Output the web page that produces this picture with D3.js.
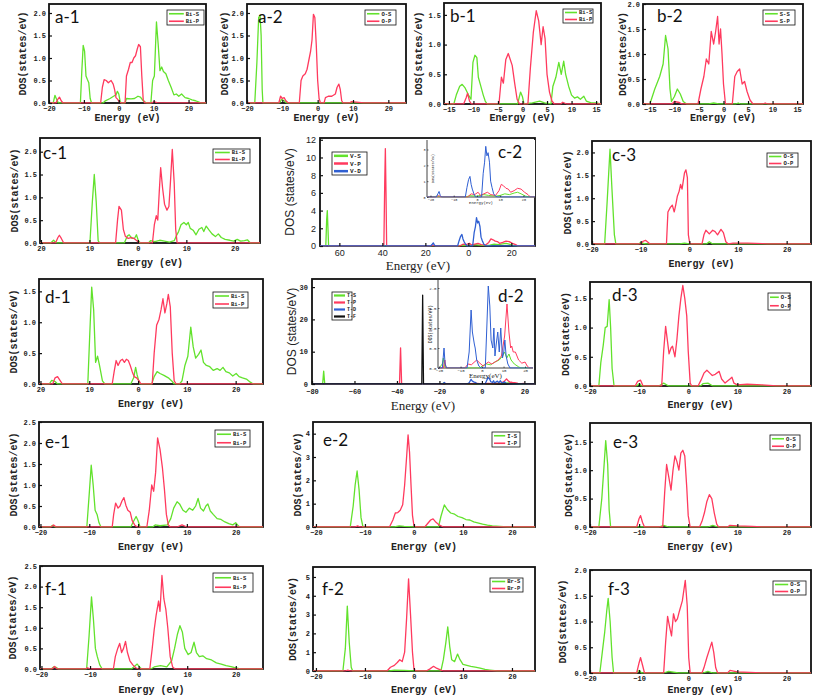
<!DOCTYPE html>
<html><head><meta charset="utf-8">
<script src="https://cdn.jsdelivr.net/npm/d3@7"></script>
<style>body{margin:0;background:#fff}</style>
</head><body>
<script>
// ---------------- DATA (energy eV, DOS states/eV) ----------------
const a1_BiS=[[-20,0],[-18.8,0],[-18.3,0.17],[-17.8,0.08],[-17.3,0],[-11,0],[-10.6,0.7],[-10.2,1.28],[-9.8,1.15],[-9.4,0.6],[-9,0.52],[-8.6,0.45],[-8.2,0.1],[-7.8,0],[-4.5,0],[-4,0.04],[-2.5,0.1],[-1.5,0.15],[-0.8,0.18],[-0.4,0.26],[0,0.2],[0.4,0.03],[0.8,0],[1.8,0],[2.2,0.1],[3.5,0.09],[4.5,0.1],[5.5,0.15],[6.2,0.13],[7,0.05],[8,0],[9.2,0],[9.7,0.5],[10.2,0.6],[10.8,1.8],[11.3,1.3],[11.8,0.72],[12.3,0.8],[12.8,0.7],[13.5,0.65],[14.2,0.5],[15,0.35],[15.8,0.18],[16.5,0.2],[17.2,0.15],[18,0.2],[19,0.12],[20,0.1],[21,0.07],[22,0.05],[23,0.02],[23.5,0],[25,0]];
const a1_BiP=[[-20,0],[-18,0],[-17.5,0.08],[-17,0.13],[-16.5,0.05],[-16,0],[-5.2,0],[-4.7,0.35],[-4.2,0.52],[-3.6,0.5],[-3,0.45],[-2.2,0.5],[-1.6,0.42],[-1.2,0.3],[-0.8,0.12],[-0.3,0.08],[0.2,0.02],[0.6,0],[1.8,0],[2.2,0.6],[2.8,0.75],[3.3,0.9],[3.8,0.9],[4.3,1.0],[4.8,1.05],[5.3,1.2],[5.7,1.3],[6.2,1.25],[6.6,0.6],[7,0.08],[7.4,0],[9.5,0],[10,0.03],[11,0.01],[25,0]];
const a2_OS=[[-20,0],[-17.8,0],[-17.2,0.9],[-16.7,1.9],[-16.3,1.95],[-16,1.5],[-15.7,0.3],[-15.5,0],[-10.8,0],[-10.2,0.08],[-9.5,0.05],[-8.8,0],[25,0]];
const a2_OP=[[-20,0],[-11,0],[-10.5,0.15],[-10,0.1],[-9.5,0.12],[-9,0.05],[-8.3,0],[-5.2,0],[-4.7,0.5],[-4.2,0.6],[-3.5,0.65],[-3,0.75],[-2.5,0.95],[-2,1.15],[-1.6,1.4],[-1.2,1.97],[-0.8,1.9],[-0.4,1.3],[0,0.5],[0.4,0.1],[0.8,0],[1.8,0],[2.2,0.12],[3,0.15],[4,0.15],[5,0.2],[5.5,0.35],[6,0.42],[6.4,0.3],[6.8,0.05],[7.2,0],[9,0],[9.5,0.03],[11,0.02],[13,0],[25,0]];
const b1_BiS=[[-16,0],[-14,0],[-13.5,0.15],[-12.8,0.3],[-12.3,0.33],[-11.7,0.27],[-11,0.15],[-10.5,0.08],[-10.1,0.7],[-9.7,0.82],[-9.3,0.78],[-9,0.45],[-8.5,0.3],[-8,0.15],[-7.6,0.05],[-7.2,0],[-1,0],[-0.4,0.2],[0,0.12],[0.3,0],[2,0.02],[3.5,0.05],[4.5,0.02],[5.8,0],[6.2,0.3],[6.8,0.45],[7.4,0.7],[7.9,0.5],[8.4,0.72],[8.8,0.5],[9.4,0.3],[10,0.15],[10.6,0.1],[11.2,0.12],[11.8,0.08],[12.5,0.13],[13,0.05],[14,0.02],[15,0.02],[16,0]];
const b1_BiP=[[-16,0],[-12,0],[-11.5,0.1],[-11.2,0.18],[-10.8,0.05],[-10.4,0],[-4.8,0],[-4.3,0.45],[-3.9,0.35],[-3.4,0.75],[-2.9,0.85],[-2.5,0.75],[-2.1,0.65],[-1.6,0.35],[-1.1,0.08],[-0.6,0],[1.1,0],[1.6,0.6],[2.2,1.2],[2.8,1.57],[3.3,1.4],[3.8,1.0],[4.2,1.3],[4.6,1.1],[5,0.5],[5.5,0.2],[6,0.05],[6.5,0],[7.8,0],[8.2,0.03],[9,0],[16,0]];
const b2_SS=[[-16.4,0],[-15,0],[-14,0.3],[-13,0.55],[-12.3,0.8],[-11.8,1.37],[-11.3,1.1],[-10.9,0.3],[-10.6,0.05],[-10,0.15],[-9.4,0.3],[-8.8,0.2],[-8.2,0.05],[-7.5,0],[-3,0],[-2,0.02],[-1,0],[2.5,0],[3,0.02],[3.5,0],[16.2,0]];
const b2_SP=[[-16.4,0],[-10.5,0],[-10,0.05],[-9,0.03],[-8.5,0],[-5.2,0],[-4.6,0.3],[-4,0.55],[-3.5,0.9],[-3,0.8],[-2.5,1.45],[-2,1.2],[-1.6,1.45],[-1.2,1.75],[-0.9,1.2],[-0.6,1.5],[-0.3,1.0],[0,0.4],[0.4,0],[1.8,0],[2.3,0.55],[2.8,0.65],[3.3,0.7],[3.8,0.4],[4.3,0.45],[4.8,0.25],[5.4,0.08],[6,0],[8,0],[8.5,0.02],[9,0],[16.2,0]];
const c1_BiS=[[-20.2,0],[-18,0],[-17.4,0.06],[-16.8,0],[-9.9,0],[-9.4,0.9],[-9.0,1.5],[-8.6,0.9],[-8.2,0.05],[-7.9,0],[-2.8,0],[-2.2,0.15],[-1.8,0.18],[-1.2,0.1],[-0.7,0.1],[-0.3,0.18],[0.1,0.05],[0.5,0],[2.2,0],[2.6,0.05],[3.5,0.03],[4.5,0.06],[5.5,0.04],[6.5,0.02],[7.5,0.05],[7.9,0.15],[8.4,0.25],[8.9,0.4],[9.5,0.45],[10,0.4],[10.4,0.45],[10.8,0.32],[11.4,0.28],[12,0.18],[12.6,0.3],[13.2,0.34],[13.6,0.25],[14.1,0.37],[14.7,0.28],[15.3,0.2],[16,0.14],[16.6,0.2],[17.2,0.12],[18,0.08],[19,0.06],[19.8,0.04],[20.5,0.08],[21.2,0.04],[22,0.05],[22.6,0.07],[23.2,0],[25.2,0]];
const c1_BiP=[[-20.2,0],[-17,0],[-16.5,0.12],[-16.2,0.17],[-15.8,0.1],[-15.3,0],[-4.6,0],[-4.2,0.5],[-3.9,0.8],[-3.4,0.72],[-3.0,0.3],[-2.6,0.15],[-2.0,0.1],[-1.4,0.12],[-0.8,0.1],[-0.2,0.05],[0.3,0],[3.0,0],[3.4,0.4],[3.8,0.6],[4.1,0.5],[4.4,1.1],[4.7,1.65],[5.1,1.2],[5.5,0.85],[6.0,0.72],[6.4,0.8],[6.7,1.3],[7.1,2.05],[7.5,1.3],[7.8,0.3],[8.1,0],[25.2,0]];
const c2_VS=[[-69,0],[-66.3,0],[-65.9,3.0],[-65.6,4.0],[-65.3,2.0],[-65,0],[-20,0],[-17,0.05],[-14,0],[-5,0],[-3,0.08],[0,0.05],[3,0.15],[5,0.1],[8,0.05],[10,0.1],[12,0.2],[14,0.15],[16,0.25],[17.5,0.3],[19,0.2],[21,0.05],[23,0],[31,0]];
const c2_VP=[[-69,0],[-39.3,0],[-38.9,7],[-38.6,11.0],[-38.3,6],[-38,0],[-18,0],[-16.5,0.08],[-15,0],[-4,0],[-2.5,0.2],[-1,0.15],[0.5,0.3],[1.5,0.1],[3,0.2],[4.5,0.3],[6,0.15],[8,0.1],[9.5,0.4],[10.5,0.8],[11.5,0.7],[12.5,0.55],[13.5,0.5],[14.5,0.3],[16,0.4],[17.5,0.55],[19,0.5],[20.5,0.3],[22,0.15],[23,0],[31,0]];
const c2_VD=[[-69,0],[-17.5,0],[-16.8,0.2],[-16.3,0.35],[-15.8,0.1],[-15.3,0],[-5,0],[-4.3,0.6],[-3.6,1.1],[-3,1.3],[-2.5,0.8],[-2,0.5],[-1.3,0.2],[-0.6,0],[2,0],[2.7,1.5],[3.3,2.2],[3.8,3.2],[4.3,2.6],[4.8,2.8],[5.4,2.2],[5.9,1.0],[6.5,0.6],[7.2,0.2],[8,0.05],[9,0],[31,0]];
const c3_OS=[[-20,0],[-17.4,0],[-16.9,0.9],[-16.3,2.07],[-15.9,1.2],[-15.4,0.2],[-15.1,0],[-10.5,0],[-10,0.03],[-9,0],[-2,0],[-1,0.02],[0,0],[3.5,0],[4.1,0.05],[4.8,0],[25,0]];
const c3_OP=[[-20,0],[-10,0],[-9.5,0.06],[-9,0.08],[-8.5,0.04],[-8.1,0],[-4.7,0],[-4.4,0.7],[-3.9,0.8],[-3.5,0.85],[-3.1,0.7],[-2.8,0.85],[-2.45,1.05],[-2.1,1.15],[-1.8,1.3],[-1.5,1.2],[-1.0,1.55],[-0.7,1.62],[-0.4,1.45],[-0.2,0.2],[0.1,0],[2.6,0],[3,0.2],[3.4,0.3],[4.1,0.22],[4.8,0.3],[5.3,0.27],[5.8,0.2],[6.5,0.32],[7,0.25],[7.5,0.05],[8,0],[9,0.02],[12,0.02],[15,0.01],[16,0],[25,0]];
const d1_BiS=[[-20.3,0],[-18.2,0],[-17.7,0.06],[-17,0.04],[-16.5,0],[-10.3,0],[-9.9,0.8],[-9.5,1.57],[-9.1,1.2],[-8.7,0.35],[-8.3,0.45],[-7.9,0.3],[-7.3,0.05],[-6.8,0],[-1.5,0],[-0.9,0.1],[-0.5,0.27],[-0.2,0.15],[0.3,0],[2.8,0],[3.3,0.12],[3.9,0.2],[4.5,0.17],[5.3,0.14],[6.2,0.1],[6.9,0.05],[7.4,0],[8.5,0],[9,0.05],[9.6,0.3],[10.2,0.45],[10.8,0.92],[11.3,0.6],[11.8,0.42],[12.4,0.48],[12.9,0.55],[13.4,0.35],[14,0.3],[14.7,0.28],[15.4,0.22],[16.2,0.25],[16.8,0.22],[17.4,0.27],[18,0.2],[18.7,0.18],[19.4,0.13],[20.1,0.17],[20.7,0.12],[21.4,0.1],[22.2,0.08],[23,0.03],[23.6,0],[25.6,0]];
const d1_BiP=[[-20.3,0],[-17.5,0],[-17,0.1],[-16.5,0.12],[-16,0.06],[-15.5,0],[-5.3,0],[-4.9,0.2],[-4.5,0.38],[-4.1,0.3],[-3.6,0.38],[-3.2,0.4],[-2.8,0.35],[-2.4,0.4],[-2,0.38],[-1.6,0.3],[-1.2,0.2],[-0.8,0.12],[-0.3,0.1],[0.2,0.05],[0.6,0],[2.9,0],[3.3,0.5],[3.8,0.95],[4.3,1.05],[4.7,1.2],[5.1,1.38],[5.5,1.15],[5.9,1.3],[6.2,1.45],[6.6,1.25],[7,0.5],[7.4,0.05],[7.8,0],[25.6,0]];
const d2_TS=[[-80,0],[-75,0],[-74.5,4.0],[-74,0],[-20,0],[-18.5,0.1],[-18,0.25],[-17.5,0.05],[-17,0],[-1,0],[0,0.05],[2,0.1],[4,0.08],[6,0.15],[8,0.2],[9.5,0.3],[10.5,0.4],[11.5,0.25],[12.5,0.35],[13.5,0.2],[15,0.1],[17,0.03],[18,0],[25,0]];
const d2_TP=[[-80,0],[-38.8,0],[-38.3,11.2],[-37.8,0],[-18,0],[-17.3,0.2],[-16.8,0],[-8,0],[-6.5,0.1],[-5,0.08],[-2.5,0.2],[-1,0.12],[0.5,0.05],[2.9,0.15],[4.5,0.1],[6,0.15],[7.5,0.2],[9,0.3],[10.5,0.8],[11.6,1.6],[12.5,0.9],[13.3,0.5],[13.8,0.55],[14.5,0.4],[15.5,0.4],[17,0.2],[18.5,0.12],[20,0.15],[21,0.05],[22,0],[25,0]];
const d2_TD=[[-80,0],[-18.5,0],[-17.7,0.5],[-17.2,0.1],[-16.5,0],[-7,0],[-6,0.4],[-5.1,1.45],[-4.5,0.9],[-3.6,0.6],[-3.2,0.5],[-2.5,0.2],[-1.5,0.05],[-0.5,0],[1.5,0],[2.2,1.0],[2.9,2.05],[3.6,1.55],[4.2,0.7],[5,0.5],[5.5,1.0],[6,0.3],[6.6,0.6],[7.3,0.9],[8,0.4],[8.7,1.0],[9.5,0.25],[10.1,0.4],[10.6,0.7],[11.2,0.3],[12,0.1],[13,0],[25,0]];
const d2_TF=[[-80,0],[-28.3,0],[-27.9,27.5],[-27.5,0],[25,0]];
const d3_OS=[[-20,0],[-18.2,0],[-17.8,0.4],[-17.3,0.7],[-16.9,1.0],[-16.5,1.02],[-16.1,1.48],[-15.8,1.0],[-15.5,0.3],[-15.1,0],[-10.5,0],[-10,0.04],[-9.5,0],[-6,0],[-5,0.05],[-4,0],[2.5,0],[3,0.04],[4,0.05],[5,0],[25,0]];
const d3_OP=[[-20,0],[-10.8,0],[-10.3,0.08],[-9.7,0.1],[-9.2,0],[-5.4,0],[-5,0.6],[-4.6,1.02],[-4.2,0.75],[-3.9,0.55],[-3.5,0.65],[-3.2,0.68],[-2.7,0.5],[-2.3,0.8],[-1.9,1.2],[-1.5,1.5],[-1.1,1.72],[-0.7,1.5],[-0.3,1.2],[0,0.6],[0.4,0.05],[0.7,0],[2,0],[2.6,0.1],[3.2,0.22],[3.8,0.27],[4.4,0.22],[4.9,0.18],[5.5,0.2],[6.3,0.25],[6.8,0.12],[7.5,0.05],[8.5,0.12],[8.9,0.15],[9.3,0.05],[10,0.02],[12,0.03],[15,0.02],[18,0],[25,0]];
const e1_BiS=[[-20.3,0],[-18,0],[-17.5,0.04],[-17,0],[-10.5,0],[-10,0.8],[-9.6,1.47],[-9.2,1.0],[-8.8,0.4],[-8.4,0.3],[-8,0.1],[-7.6,0],[-1.5,0],[-1,0.12],[-0.4,0.25],[0,0.15],[0.4,0],[3,0],[3.5,0.05],[4.5,0.03],[6,0.05],[6.7,0.2],[7.3,0.45],[8,0.6],[8.5,0.55],[9.2,0.4],[9.8,0.35],[10.5,0.45],[11.2,0.4],[11.8,0.5],[12.3,0.68],[12.8,0.45],[13.4,0.38],[13.9,0.5],[14.3,0.55],[14.8,0.38],[15.4,0.3],[16.2,0.2],[17,0.18],[17.8,0.12],[18.6,0.08],[19.4,0.05],[20,0.1],[20.6,0.02],[21,0],[25.6,0]];
const e1_BiP=[[-20.3,0],[-17.8,0],[-17.3,0.05],[-16.8,0],[-5.3,0],[-5,0.3],[-4.6,0.57],[-4.1,0.45],[-3.7,0.5],[-3.3,0.62],[-2.9,0.7],[-2.5,0.52],[-2.1,0.4],[-1.6,0.35],[-1.2,0.15],[-0.7,0.05],[-0.2,0],[1.8,0],[2.3,0.4],[2.8,1.0],[3.2,0.85],[3.6,1.3],[4.0,2.12],[4.5,1.85],[5,1.4],[5.4,0.9],[5.8,0.3],[6.2,0.05],[6.6,0],[8,0],[9,0.05],[10,0],[25.6,0]];
const e2_IS=[[-20.6,0],[-13,0],[-12.4,0.9],[-12,1.8],[-11.6,2.4],[-11.2,1.6],[-10.8,0.4],[-10.4,0],[-4,0],[-3,0.05],[-2,0.03],[0,0],[5,0],[5.5,0.45],[6.2,0.95],[6.8,0.75],[7.5,0.6],[8.3,0.55],[9,0.45],[9.8,0.4],[10.6,0.32],[11.4,0.3],[12.2,0.22],[13,0.18],[14,0.12],[15,0.08],[16,0.05],[17.5,0.03],[19,0],[24.7,0]];
const e2_IP=[[-20.6,0],[-12,0],[-11.5,0.05],[-11,0],[-5,0],[-4.3,0.3],[-3.8,0.6],[-3.3,0.62],[-2.8,0.72],[-2.3,0.95],[-1.9,1.8],[-1.5,3.0],[-1.2,3.95],[-0.9,3.2],[-0.6,1.8],[-0.3,0.5],[0,0.05],[0.4,0],[2.2,0],[2.8,0.15],[3.4,0.3],[3.9,0.35],[4.5,0.2],[5.2,0.08],[6,0],[24.7,0]];
const e3_OS=[[-20,0],[-18.2,0],[-17.6,0.5],[-17.2,1.0],[-16.8,1.52],[-16.4,1.1],[-16.1,0.3],[-15.8,0],[-6,0],[-5,0.03],[-4,0],[4,0],[5,0.03],[6,0],[25,0]];
const e3_OP=[[-20,0],[-10.5,0],[-10,0.15],[-9.7,0.2],[-9.3,0.08],[-8.9,0],[-5.2,0],[-4.8,0.6],[-4.4,1.1],[-4,0.9],[-3.5,0.65],[-3.1,1.0],[-2.7,1.25],[-2.3,1.15],[-1.9,1.0],[-1.5,1.3],[-1.1,1.35],[-0.7,1.25],[-0.3,0.7],[0,0.2],[0.4,0],[2.3,0],[2.8,0.1],[3.3,0.25],[3.8,0.45],[4.3,0.57],[4.8,0.5],[5.3,0.25],[5.8,0.05],[6.2,0],[8,0],[8.5,0.03],[10,0.02],[13,0.01],[15,0],[25,0]];
const f1_BiS=[[-20.3,0],[-18,0],[-17.5,0.05],[-17,0.04],[-16.5,0],[-10.7,0],[-10.2,0.8],[-9.7,1.75],[-9.3,1.2],[-8.9,0.5],[-8.5,0.3],[-8,0.1],[-7.5,0],[-1.5,0],[-1,0.05],[-0.3,0.12],[0.2,0.05],[0.6,0],[2.5,0],[3.2,0.05],[4.5,0.08],[5.8,0.05],[6.8,0.2],[7.4,0.5],[8,0.85],[8.5,1.05],[9,0.9],[9.5,0.5],[10.2,0.35],[10.8,0.4],[11.4,0.65],[11.9,0.4],[12.5,0.3],[13.2,0.32],[14,0.25],[15,0.22],[16,0.15],[17,0.12],[18,0.08],[19,0.06],[20,0.03],[21,0],[25.6,0]];
const f1_BiP=[[-20.3,0],[-17.8,0],[-17.3,0.06],[-16.8,0],[-11,0],[-10.5,0.03],[-10,0],[-5.2,0],[-4.8,0.3],[-4.3,0.5],[-3.9,0.62],[-3.5,0.4],[-3.1,0.5],[-2.7,0.67],[-2.3,0.4],[-1.8,0.2],[-1.2,0.1],[-0.6,0.03],[0,0],[2.3,0],[2.8,0.5],[3.2,0.95],[3.6,1.3],[4.1,1.65],[4.4,1.4],[4.8,2.27],[5.2,1.7],[5.6,1.45],[6,1.0],[6.5,0.3],[7,0.05],[7.5,0],[25.6,0]];
const f2_BrS=[[-20.6,0],[-14.5,0],[-14,1.2],[-13.6,3.45],[-13.2,1.5],[-12.8,0.2],[-12.5,0],[-5,0],[-4,0.05],[-2,0.03],[0,0],[5.5,0],[6,0.6],[6.5,1.5],[6.9,2.35],[7.3,1.3],[7.7,0.6],[8.3,0.5],[8.9,0.9],[9.4,0.6],[10,0.35],[10.8,0.3],[11.6,0.25],[12.5,0.2],[13.5,0.15],[14.5,0.08],[15.5,0.05],[17,0],[24.7,0]];
const f2_BrP=[[-20.6,0],[-14,0],[-13.5,0.05],[-13,0],[-5.5,0],[-4.8,0.2],[-4,0.3],[-3.4,0.45],[-2.9,0.6],[-2.4,0.5],[-1.9,1.0],[-1.5,2.8],[-1.1,4.9],[-0.7,3.0],[-0.3,1.0],[0,0.1],[0.4,0],[2.5,0],[3.2,0.1],[4,0.25],[4.6,0.15],[5.5,0.05],[6,0],[24.7,0]];
const f3_OS=[[-20,0],[-18,0],[-17.5,0.4],[-17,0.8],[-16.6,1.2],[-16.3,1.45],[-15.9,1.0],[-15.5,0.3],[-15.2,0],[-10.5,0],[-10,0.05],[-9.5,0],[-5,0],[-4,0.03],[-2,0],[3,0],[4,0.03],[5,0],[25,0]];
const f3_OP=[[-20,0],[-10.5,0],[-10,0.2],[-9.7,0.3],[-9.3,0.15],[-8.9,0],[-5,0],[-4.6,0.6],[-4.2,1.1],[-3.8,0.9],[-3.4,0.72],[-3.0,1.15],[-2.6,1.0],[-2.2,1.05],[-1.8,1.2],[-1.2,1.4],[-0.6,1.8],[-0.2,1.3],[0.1,0.3],[0.4,0],[2.8,0],[3.2,0.1],[3.8,0.3],[4.3,0.45],[4.8,0.6],[5.2,0.4],[5.6,0.1],[6,0],[8,0],[8.5,0.05],[10,0.02],[15,0],[25,0]];

// tick values
const ticks20=[-20,-10,0,10,20];
const ticks15=[-15,-10,-5,0,5,10,15];
const ticksC2=[-60,-40,-20,0,20];
const ticksD2=[-80,-60,-40,-20,0,20];
const yHalf=[0,0.5,1,1.5,2];
const yHalf25=[0,0.5,1,1.5,2,2.5];

// ---------------- STYLE ----------------
const GREEN="#62e22c", RED="#ff3a5e", BLUE="#2f5fd2", BLACK="#111";
const MONO="'Liberation Mono','DejaVu Sans Mono',monospace";
const SANS="'Liberation Sans',Arial,sans-serif";
const SERIF="'Liberation Serif','Times New Roman',serif";
const LABF="Lato,'Open Sans',sans-serif";

const svg=d3.select("body").append("svg").attr("width",815).attr("height",699).style("background","#fff");
const defs=svg.append("defs");

function drawPanel(p){
  const [x0,y0,x1,y1]=p.box;
  const x=d3.scaleLinear().domain(p.xd).range([x0,x1]);
  const y=d3.scaleLinear().domain(p.yd).range([y1,y0]);
  const g=svg.append("g");
  const cid="clip-"+p.id;
  defs.append("clipPath").attr("id",cid).append("rect").attr("x",x0).attr("y",y0).attr("width",x1-x0).attr("height",y1-y0+0.5);
  g.append("rect").attr("x",x0).attr("y",y0).attr("width",x1-x0).attr("height",y1-y0)
    .attr("fill","#fff").attr("stroke",BLACK).attr("stroke-width",p.inset?0:1.8);
  if(p.inset){
    g.append("line").attr("x1",x0).attr("x2",x0).attr("y1",y0).attr("y2",y1).attr("stroke",BLACK).attr("stroke-width",0.8);
    g.append("line").attr("x1",x0).attr("x2",x1).attr("y1",y1).attr("y2",y1).attr("stroke",BLACK).attr("stroke-width",0.8);
  }
  const line=d3.line().x(d=>x(d[0])).y(d=>y(d[1]));
  const lg=g.append("g").attr("clip-path",`url(#${cid})`);
  p.series.forEach(s=>lg.append("path").datum(s.data).attr("d",line).attr("fill","none")
    .attr("stroke",s.color).attr("stroke-width",p.lw||1.3).attr("stroke-linejoin","round"));
  const xf=p.abs?(d=>String(Math.abs(d))):d3.format("d");
  const ts=p.inset?-1.5:-3;
  const xa=d3.axisBottom(x).tickValues(p.xt).tickFormat(xf).tickSize(ts).tickSizeOuter(0).tickPadding(p.tpx||p.tp||3);
  const ya=d3.axisLeft(y).tickValues(p.yt).tickFormat(d3.format(p.yf)).tickSize(ts).tickSizeOuter(0).tickPadding(p.tp||3);
  const gx=g.append("g").attr("transform",`translate(0,${y1})`).call(xa);
  const gy=g.append("g").attr("transform",`translate(${x0},0)`).call(ya);
  [gx,gy].forEach(a=>{
    a.select(".domain").remove();
    a.selectAll("line").attr("stroke",BLACK).attr("stroke-width",p.inset?0.6:1.2);
    a.selectAll("text").attr("font-family",p.tf||MONO).attr("font-size",p.ts||7)
      .attr("font-weight",p.tw||"bold").attr("fill","#222");
  });
  if(p.leg){
    const [lx,ly,lw,lh]=p.leg, n=p.series.length;
    g.append("rect").attr("x",lx).attr("y",ly).attr("width",lw).attr("height",lh)
      .attr("fill","#fff").attr("stroke",BLACK).attr("stroke-width",0.8);
    p.series.forEach((s,i)=>{
      const yy=ly+lh*(i+0.5)/n;
      g.append("line").attr("x1",lx+2).attr("x2",lx+2+lw*(p.legLine||0.4)).attr("y1",yy).attr("y2",yy)
        .attr("stroke",s.color).attr("stroke-width",p.legW||1.6);
      g.append("text").attr("x",lx+4+lw*(p.legLine||0.4)).attr("y",yy).attr("dy","0.35em")
        .attr("font-family",MONO).attr("font-size",p.legFs||5.5).attr("font-weight","bold").attr("fill","#222").text(s.name);
    });
  }
  if(p.label) g.append("text").attr("x",p.label[0]).attr("y",p.label[1]).attr("font-family",LABF)
      .attr("font-size",p.labFs||17).attr("fill","#111").text(p.labText);
  if(p.yTitle) g.append("text").attr("transform",`translate(${p.yTitle[0]},${(y0+y1)/2}) rotate(-90)`)
      .attr("text-anchor","middle").attr("dy","0.35em").attr("font-family",p.yTitle[2]||MONO)
      .attr("font-size",p.yTitle[1]).attr("font-weight",p.yTitle[3]||"bold").attr("fill","#222").text(p.yText||"DOS(states/eV)");
  if(p.xTitle) g.append("text").attr("x",p.xTitle[4]||(x0+x1)/2).attr("y",p.xTitle[0]).attr("text-anchor","middle")
      .attr("font-family",p.xTitle[2]||MONO).attr("font-size",p.xTitle[1]).attr("font-weight",p.xTitle[3]||"bold")
      .attr("fill","#222").text(p.xText||"Energy (eV)");
}

const S=(data,color,name)=>({data,color,name});

const panels=[
 {id:"a1",box:[49,4,206,103],xd:[-20,25],yd:[0,2.2],xt:ticks20,yt:yHalf,yf:".1f",
  series:[S(a1_BiS,GREEN,"Bi-S"),S(a1_BiP,RED,"Bi-P")],leg:[167,10,37,15],label:[55,23],labText:"a-1",yTitle:[22,10],xTitle:[121,10]},
 {id:"a2",box:[247,4,406,103],xd:[-20,25],yd:[0,2.2],xt:ticks20,yt:yHalf,yf:".1f",
  series:[S(a2_OS,GREEN,"O-S"),S(a2_OP,RED,"O-P")],leg:[365,10,31,15],label:[258,23],labText:"a-2",yTitle:[224,10],xTitle:[121,10]},
 {id:"b1",box:[444,3,601,104],xd:[-16,16],yd:[0,1.7],xt:ticks15,yt:[0,0.5,1,1.5],yf:".1f",
  series:[S(b1_BiS,GREEN,"Bi-S"),S(b1_BiP,RED,"Bi-P")],leg:[563,9,30,14],label:[450,22],labText:"b-1",yTitle:[418,10],xTitle:[121,10]},
 {id:"b2",box:[643,4,803,104],xd:[-16.4,16.2],yd:[0,2.0],xt:ticks15,yt:yHalf,yf:".1f",
  series:[S(b2_SS,GREEN,"S-S"),S(b2_SP,RED,"S-P")],leg:[763,10,32,15],label:[657,22],labText:"b-2",yTitle:[622,10],xTitle:[121,10]},

 {id:"c1",box:[40,138,260,243],xd:[-20.2,25.2],yd:[0,2.3],xt:ticks20,abs:true,yt:yHalf,yf:".1f",
  series:[S(c1_BiS,GREEN,"Bi-S"),S(c1_BiP,RED,"Bi-P")],leg:[213,149,37,14],label:[43,159],labText:"c-1",yTitle:[14,10],xTitle:[266,10]},
 {id:"c2",box:[320,138,535,246],xd:[-69,31],yd:[0,12.2],xt:ticksC2,abs:true,yt:[0,2,4,6,8,10,12],yf:"d",tf:SANS,ts:9,tw:"normal",tp:4,
  series:[S(c2_VS,GREEN,"V-S"),S(c2_VP,RED,"V-P"),S(c2_VD,BLUE,"V-D")],leg:[332,152,35,23],legW:2.5,legFs:6,
  yTitle:[290,12,SANS,"normal"],yText:"DOS (states/eV)",xTitle:[270,13,SERIF,"normal",418]},
 {id:"c2i",inset:true,box:[427,140,535,197],xd:[-21.5,25],yd:[0,3.6],xt:ticks20,yt:[0,1,2,3],yf:"d",ts:3.5,tw:"normal",tp:1.5,lw:1,
  series:[S(c2_VS,GREEN),S(c2_VP,RED),S(c2_VD,BLUE)],label:[498,158],labText:"c-2",yTitle:[433,3.5,MONO,"normal"],xTitle:[204,4,MONO,"normal"],xText:"Energy(eV)"},
 {id:"c3",box:[592,141,811,244],xd:[-20,25],yd:[0,2.25],xt:ticks20,yt:yHalf,yf:".1f",
  series:[S(c3_OS,GREEN,"O-S"),S(c3_OP,RED,"O-P")],leg:[767,153,31,14],label:[612,161],labText:"c-3",yTitle:[567,10],xTitle:[267,10]},

 {id:"d1",box:[39,279,263,384],xd:[-20.3,25.6],yd:[0,1.7],xt:ticks20,abs:true,yt:[0,0.5,1,1.5],yf:".1f",
  series:[S(d1_BiS,GREEN,"Bi-S"),S(d1_BiP,RED,"Bi-P")],leg:[213,292,35,16],label:[45,303],labText:"d-1",yTitle:[13,10],xTitle:[407,10]},
 {id:"d2",box:[312,279,535,384],xd:[-80,25],yd:[0,32.5],xt:ticksD2,yt:[0,10,20,30],yf:"d",tp:4,tpx:5,
  series:[S(d2_TS,GREEN,"T-S"),S(d2_TP,RED,"T-P"),S(d2_TD,BLUE,"T-D"),S(d2_TF,BLACK,"T-F")],leg:[332,292,20,28],legW:2.2,legFs:5,legLine:0.55,
  yTitle:[292,12,SANS,"normal"],yText:"DOS (states/eV)",xTitle:[410,13,SERIF,"normal",423]},
 {id:"d2i",inset:true,box:[438,280,533,368],xd:[-20.5,23.7],yd:[0,2.2],xt:ticks20,yt:yHalf,yf:".1f",ts:4,tw:"normal",tp:1.5,lw:1,
  series:[S(d2_TS,GREEN),S(d2_TP,RED),S(d2_TD,BLUE)],label:[498,302],labText:"d-2",yTitle:[430,4.5,MONO,"normal"],xTitle:[378,7,SERIF,"normal"],xText:"Energy(eV)"},
 {id:"d3",box:[590,282,811,386],xd:[-20,25],yd:[0,1.78],xt:ticks20,yt:[0,0.5,1,1.5],yf:".1f",
  series:[S(d3_OS,GREEN,"O-S"),S(d3_OP,RED,"O-P")],leg:[768,293,22,17],label:[612,301],labText:"d-3",yTitle:[565,10],xTitle:[408,10]},

 {id:"e1",box:[39,422,263,527],xd:[-20.3,25.6],yd:[0,2.5],xt:ticks20,yt:yHalf25,yf:".1f",
  series:[S(e1_BiS,GREEN,"Bi-S"),S(e1_BiP,RED,"Bi-P")],leg:[215,430,35,17],label:[45,448],labText:"e-1",yTitle:[13,10],xTitle:[550,10]},
 {id:"e2",box:[313,422,535,527],xd:[-20.6,24.7],yd:[0,4.5],xt:ticks20,yt:[0,1,2,3,4],yf:"d",
  series:[S(e2_IS,GREEN,"I-S"),S(e2_IP,RED,"I-P")],leg:[492,432,28,15],label:[323,446],labText:"e-2",yTitle:[297,10],xTitle:[550,10]},
 {id:"e3",box:[590,423,811,527],xd:[-20,25],yd:[0,1.83],xt:ticks20,yt:[0,0.5,1,1.5],yf:".1f",
  series:[S(e3_OS,GREEN,"O-S"),S(e3_OP,RED,"O-P")],leg:[770,435,30,15],label:[613,448],labText:"e-3",yTitle:[568,10],xTitle:[550,10]},

 {id:"f1",box:[40,566,263,669],xd:[-20.3,25.6],yd:[0,2.5],xt:ticks20,yt:yHalf25,yf:".1f",
  series:[S(f1_BiS,GREEN,"Bi-S"),S(f1_BiP,RED,"Bi-P")],leg:[213,573,40,19],label:[45,595],labText:"f-1",yTitle:[12,10],xTitle:[693,10]},
 {id:"f2",box:[313,567,535,671],xd:[-20.6,24.7],yd:[0,5.53],xt:ticks20,yt:[0,1,2,3,4,5],yf:"d",
  series:[S(f2_BrS,GREEN,"Br-S"),S(f2_BrP,RED,"Br-P")],leg:[490,578,33,14],label:[322,595],labText:"f-2",yTitle:[292,10],xTitle:[693,10]},
 {id:"f3",box:[590,570,811,673],xd:[-20,25],yd:[0,2.0],xt:ticks20,yt:yHalf,yf:".1f",
  series:[S(f3_OS,GREEN,"O-S"),S(f3_OP,RED,"O-P")],leg:[773,581,33,14],label:[608,595],labText:"f-3",yTitle:[562,10],xTitle:[693,10]}
];
panels.forEach(drawPanel);
</script>
</body></html>
